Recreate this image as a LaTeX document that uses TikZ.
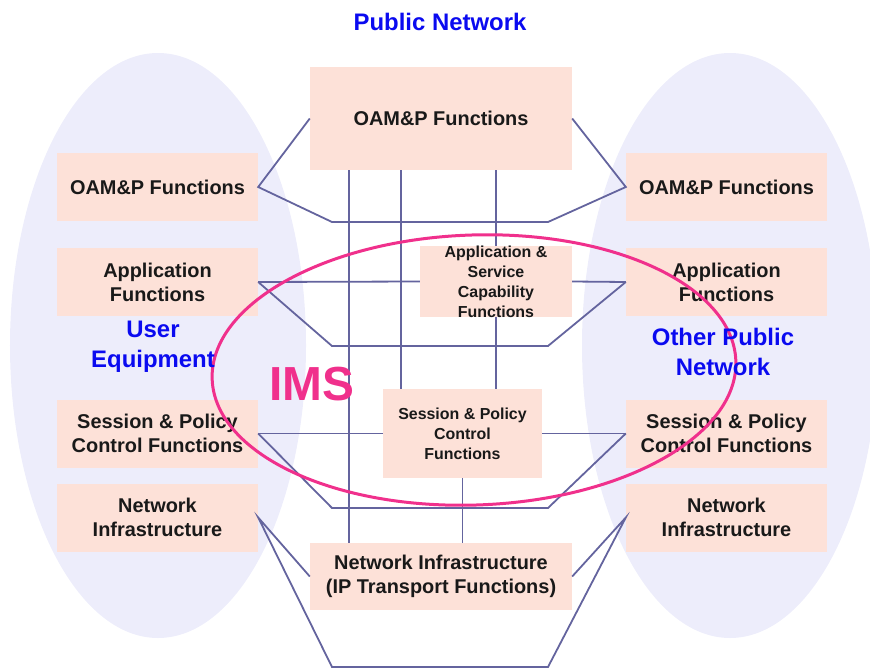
\documentclass[tikz,border=0pt]{standalone}
\usepackage{fontspec}
\setmainfont{Liberation Sans}
\definecolor{cloud}{HTML}{EDEDFB}
\definecolor{boxpink}{HTML}{FDE1D8}
\definecolor{linkblue}{HTML}{64649E}
\definecolor{imspink}{HTML}{F0308C}
\definecolor{netblue}{HTML}{0A0AF0}
\begin{document}
\begin{tikzpicture}[x=1bp, y=-1bp,
    box/.style={rectangle, fill=boxpink, inner sep=0pt, align=center,
        minimum width=201bp, minimum height=68bp, text=black!90,
        font=\fontsize{20}{24}\selectfont\bfseries},
    small/.style={box, font=\fontsize{16}{20}\selectfont\bfseries},
    link/.style={draw=linkblue, line width=1.8bp},
    title/.style={text=netblue, align=center, font=\fontsize{24}{30}\selectfont\bfseries}]

    \useasboundingbox (0,0) rectangle (870,669);

    % the two end networks
    \fill[cloud] (158,345.5) ellipse [x radius=148bp, y radius=292.5bp];
    \fill[cloud] (730,345.5) ellipse [x radius=148bp, y radius=292.5bp];

    % side columns
    \foreach \side/\cx in {l/157.5, r/726.5} {
        \node[box] (\side o) at (\cx,187) {OAM\&P Functions};
        \node[box] (\side a) at (\cx,282) {Application\\Functions};
        \node[box] (\side s) at (\cx,433.5) {Session \& Policy\\Control Functions};
        \node[box] (\side n) at (\cx,517.5) {Network\\Infrastructure};
    }

    % public network
    \node[box, minimum width=262bp, minimum height=103bp] (co) at (441,118.5) {OAM\&P Functions};
    \node[small, minimum width=152bp, minimum height=71bp] (ca) at (496,281.5) {Application \&\\Service\\Capability\\Functions};
    \node[small, minimum width=159bp, minimum height=89bp] (cs) at (462.5,433.5) {Session \& Policy\\Control\\Functions};
    \node[box, minimum width=262bp, minimum height=67bp] (cn) at (441,576.5) {Network Infrastructure\\(IP Transport Functions)};

    % corners of the trapezoids
    \coordinate (t1l) at (332,222); \coordinate (t1r) at (548,222);
    \coordinate (t2l) at (332,346); \coordinate (t2r) at (548,346);
    \coordinate (t3l) at (332,508); \coordinate (t3r) at (548,508);
    \coordinate (t4l) at (332,667); \coordinate (t4r) at (548,667);
    \coordinate (v1) at (349,0);
    \coordinate (v2) at (401,0);

    % OAM&P level
    \draw[link] (co.west) -- (lo.east) -- (t1l) -- (t1r) -- (ro.west) -- (co.east);
    % application level
    \draw[link] (la.east) -- (ca.west);
    \draw[link] (ca.east) -- (ra.west);
    \draw[link] (la.east) -- (t2l) -- (t2r) -- (ra.west);
    % session level
    \draw[link] (ls.east) -- (cs.west);
    \draw[link] (cs.east) -- (rs.west);
    \draw[link] (ls.east) -- (t3l) -- (t3r) -- (rs.west);
    % network level
    \draw[link] (cn.west) -- (ln.east) -- (t4l) -- (t4r) -- (rn.west) -- (cn.east);

    % vertical links
    \draw[link] (co.south -| v1) -- (cn.north -| v1);
    \draw[link] (co.south -| v2) -- (cs.north -| v2);
    \draw[link] (co.south -| ca.north) -- (ca.north);
    \draw[link] (ca.south) -- (cs.north -| ca.south);
    \draw[link] (cs.south) -- (cn.north -| cs.south);

    % IMS
    \draw[imspink, line width=3bp, rotate around={2:(474,370)}] (474,370) ellipse [x radius=262bp, y radius=135bp];
    \node[text=imspink, font=\fontsize{48}{50}\selectfont\bfseries] (ims) at (312,384) {IMS};

    % labels
    \node[title] (pub) at (440,22) {Public Network};
    \node[title] (ue) at (153,347) {User\\Equipment};
    \node[title] (opn) at (723,352) {Other Public\\Network};

\end{tikzpicture}
\end{document}
